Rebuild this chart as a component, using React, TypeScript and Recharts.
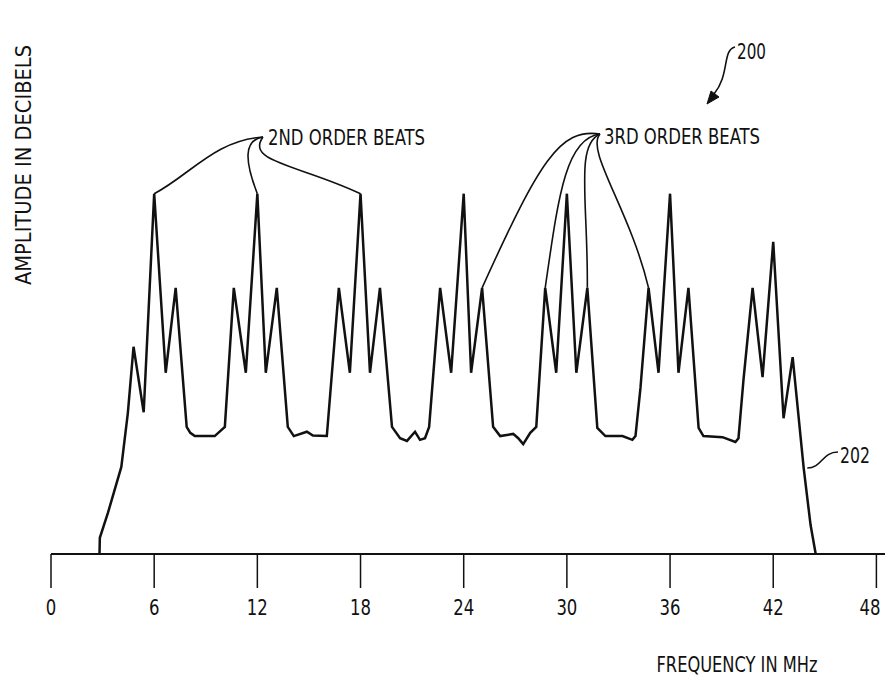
import { LineChart, Line, XAxis, YAxis, Customized } from "recharts"

// frequency (MHz) and amplitude (relative dB, 0..100)
const freq = [
  2.82, 2.84, 3.31, 4.09, 4.47, 4.8, 5.39, 6.0, 6.67, 7.25, 7.89, 8.1, 8.36, 9.52, 10.11, 10.63, 11.33, 12.0,
  12.49, 13.13, 13.77, 14.12, 14.88, 15.23, 16.04, 16.74, 17.38, 18.0, 18.55, 19.13, 19.83, 20.3, 20.7, 21.17,
  21.46, 21.75, 21.99, 22.63, 23.27, 24.0, 24.43, 25.07, 25.71, 26.12, 26.88, 27.17, 27.46, 27.87, 28.22, 28.74,
  29.38, 30.0, 30.55, 31.19, 31.77, 32.24, 33.23, 33.81, 33.99, 34.28, 34.75, 35.33, 36.0, 36.49, 37.07, 37.66,
  37.94, 39.05, 39.8, 39.98, 40.27, 40.8, 41.38, 42.0, 42.6, 43.13, 43.77, 44.17, 44.47,
]
const amplitude = [
  0, 3.0, 7.6, 16.1, 26.1, 38.3, 26.2, 66.6, 33.5, 49.2, 23.5, 22.4, 21.8, 21.8, 23.5, 49.2, 33.5, 66.6,
  33.5, 49.2, 23.5, 21.8, 22.6, 21.9, 21.8, 49.2, 33.5, 66.6, 33.5, 49.2, 23.5, 21.4, 20.9, 22.6,
  21.1, 21.4, 23.5, 49.2, 33.5, 66.6, 33.5, 49.2, 23.5, 21.8, 22.2, 21.4, 20.3, 22.4, 23.5, 49.2,
  33.5, 66.6, 33.5, 49.2, 23.3, 21.8, 21.8, 21.1, 21.8, 30.7, 49.2, 33.5, 66.6, 33.5, 49.2, 23.3,
  21.8, 21.6, 20.7, 21.4, 32.2, 49.2, 32.7, 57.7, 25.1, 36.4, 15.9, 5.4, 0,
]
const xTicks = [0, 6, 12, 18, 24, 30, 36, 42, 48]
const secondOrderBeats = [6, 12, 18]
const thirdOrderBeats = [25.07, 28.74, 31.19, 34.75]

const data = freq.map((f, i) => ({ f, a: amplitude[i] }))

const W = 885
const H = 675
const MARGIN = { top: 13, right: 0, bottom: 0, left: 51 }
const X_AXIS_H = 121
const X_DOMAIN: [number, number] = [0, 48.5]
const Y_DOMAIN: [number, number] = [0, 100]
const FONT = "'DejaVu Sans Condensed', 'DejaVu Sans', sans-serif"
const INK = "#111"

const sx = (f: number) =>
  MARGIN.left + ((f - X_DOMAIN[0]) / (X_DOMAIN[1] - X_DOMAIN[0])) * (W - MARGIN.left - MARGIN.right)
const sy = (v: number) =>
  MARGIN.top + (1 - (v - Y_DOMAIN[0]) / (Y_DOMAIN[1] - Y_DOMAIN[0])) * (H - MARGIN.top - X_AXIS_H)
const ampAt = (f: number) => amplitude[freq.indexOf(f)]

// squeezed text, the drawing uses a narrow lettering font
function T({ x, y, len, children, anchor = "start", rotate }: any) {
  return (
    <text
      x={x}
      y={y}
      textLength={len}
      lengthAdjust="spacingAndGlyphs"
      textAnchor={anchor}
      dominantBaseline="central"
      transform={rotate ? `rotate(${rotate} ${x} ${y})` : undefined}
      fontFamily={FONT}
      fontSize={22}
      fill={INK}
    >
      {children}
    </text>
  )
}

function Tick({ x, y, payload }: any) {
  const s = String(payload.value)
  const len = s.length * 10.5
  // keep the last label inside the page
  const cx = Math.min(x, W - 15)
  return (
    <T x={cx} y={y + 9} len={len} anchor="middle">
      {s}
    </T>
  )
}

function Annotations() {
  const [p6, p12, p18] = secondOrderBeats.map((f) => [sx(f), sy(ampAt(f))])
  const [q1, q2, q3, q4] = thirdOrderBeats.map((f) => [sx(f), sy(ampAt(f))])
  const a2 = [263, 137]
  const a3 = [600, 134]
  const lead = { fill: "none", stroke: INK, strokeWidth: 1.6 }
  return (
    <g>
      <T x={23} y={165} len={240} anchor="middle" rotate={-90}>AMPLITUDE IN DECIBELS</T>
      <T x={737} y={664} len={161} anchor="middle">FREQUENCY IN MHz</T>

      <T x={268} y={137} len={157}>2ND ORDER BEATS</T>
      <path d={`M${p6[0]},${p6[1]} C190,175 215,140 ${a2[0]},${a2[1]}`} {...lead} />
      <path d={`M${a2[0]},${a2[1]} C243,140 245,162 ${p12[0]},${p12[1]}`} {...lead} />
      <path d={`M${a2[0]},${a2[1]} C245,162 300,165 ${p18[0]},${p18[1]}`} {...lead} />

      <T x={604} y={136} len={156}>3RD ORDER BEATS</T>
      <path d={`M${a3[0]},${a3[1]} C560,128 540,160 ${q1[0]},${q1[1]}`} {...lead} />
      <path d={`M${a3[0]},${a3[1]} C565,138 558,200 ${q2[0]},${q2[1]}`} {...lead} />
      <path d={`M${a3[0]},${a3[1]} C575,145 588,200 ${q3[0]},${q3[1]}`} {...lead} />
      <path d={`M${a3[0]},${a3[1]} C585,150 630,210 ${q4[0]},${q4[1]}`} {...lead} />

      <T x={737} y={51} len={29}>200</T>
      <path d="M735,47 C722,50 730,75 714,94" {...lead} />
      <path d="M707,104 L711,91 L719,97 Z" fill={INK} stroke={INK} strokeWidth={1} />

      <T x={840} y={455} len={30}>202</T>
      <path d={`M${sx(43.98)},468 C822,468 822,452 838,452`} {...lead} />
    </g>
  )
}

export default function App() {
  return (
    <div style={{ position: "absolute", left: 0, top: 0, width: W, height: H, background: "#fff" }}>
      <LineChart width={W} height={H} data={data} margin={MARGIN}>
        <XAxis
          dataKey="f"
          type="number"
          domain={X_DOMAIN}
          ticks={xTicks}
          allowDataOverflow
          height={X_AXIS_H}
          tickSize={34}
          tickMargin={10}
          axisLine={{ stroke: INK, strokeWidth: 2 }}
          tickLine={{ stroke: INK, strokeWidth: 1.5 }}
          tick={<Tick />}
        />
        <YAxis
          type="number"
          domain={Y_DOMAIN}
          width={0}
          tick={false}
          tickLine={false}
          axisLine={{ stroke: INK, strokeWidth: 2 }}
        />
        <Line
          type="linear"
          dataKey="a"
          stroke={INK}
          strokeWidth={2.5}
          strokeLinejoin="miter"
          dot={false}
          activeDot={false}
          isAnimationActive={false}
        />
        <Customized component={<Annotations />} />
      </LineChart>
    </div>
  )
}
